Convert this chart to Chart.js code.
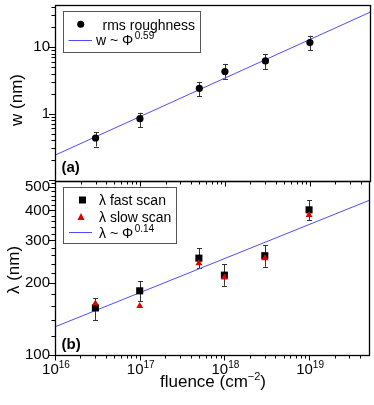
<!DOCTYPE html>
<html>
<head>
<meta charset="utf-8">
<script src="https://cdn.jsdelivr.net/npm/chart.js@4.4.1/dist/chart.umd.min.js"></script>
<style>
html, body { margin: 0; padding: 0; background: #fff; }
#wrap { position: relative; width: 374px; height: 405px; }
#wrap canvas { position: absolute; left: 0; top: 0; }
</style>
</head>
<body>
<div id="wrap">
  <canvas id="top-chart" width="374" height="405"></canvas>
  <canvas id="bottom-chart" width="374" height="405"></canvas>
</div>
<script>
// fluence values (cm^-2)
const fluence = [3e16, 1e17, 5e17, 1e18, 3e18, 1e19];

// panel (a): rms roughness w (nm) with error bar ends
const roughness = [0.43, 0.84, 2.4, 4.3, 6.2, 11.7];
const roughnessHi = [0.53, 1.03, 3.0, 5.6, 7.9, 14.8];
const roughnessLo = [0.32, 0.63, 1.84, 3.35, 4.7, 8.9];

// panel (b): wavelength lambda (nm)
const lambdaFast = [157, 185, 253, 215, 259, 402];
const lambdaFastHi = [172, 203, 278, 239, 287, 442];
const lambdaFastLo = [140, 168, 230, 194, 233, 363];
const lambdaSlow = [164, 160, 241, 210, 253, 383];

// power-law fit lines, read at the ends of the x axis
const fitFluence = [1e16, 5.1e19];
const fitRoughness = [0.237, 33.5];
const fitLambda = [131, 440];

// tick labels
const xTickExponents = [16, 17, 18, 19];
const wTicks = [1, 10];
const lambdaTicks = [100, 200, 300, 400, 500];

const FONT = "'Liberation Sans', Arial, sans-serif";
const fitColor = '#4d4dff';
Chart.defaults.font.family = FONT;
Chart.defaults.color = '#000';

function toPoints(xs, ys) {
    return xs.map((x, i) => ({x: x, y: ys[i]}));
}

function fixAxisWidth(scale) {
    scale.width = 55;
    scale.paddingTop = 0;
    scale.paddingBottom = 0;
    scale.paddingLeft = 0;
    scale.paddingRight = 0;
}

// draw text made of pieces, some of them raised (superscripts)
function drawParts(ctx, parts, x, y, align) {
    let total = 0;
    parts.forEach(p => {
        ctx.font = (p.bold ? 'bold ' : '') + p.size + 'px ' + FONT;
        p.w = ctx.measureText(p.t).width;
        total += p.w + (p.gap || 0);
    });
    let cx = x;
    if (align === 'center') cx = x - total / 2;
    ctx.textAlign = 'left';
    ctx.textBaseline = 'alphabetic';
    parts.forEach(p => {
        ctx.font = (p.bold ? 'bold ' : '') + p.size + 'px ' + FONT;
        cx += (p.gap || 0);
        ctx.fillText(p.t, cx, y - (p.rise || 0));
        cx += p.w;
    });
}

function drawErrorBars(chart, hi, lo) {
    const ctx = chart.ctx;
    const xs = chart.scales.x;
    const ys = chart.scales.y;
    ctx.save();
    ctx.strokeStyle = '#333';
    ctx.lineWidth = 1;
    for (let i = 0; i < fluence.length; i++) {
        const x = Math.round(xs.getPixelForValue(fluence[i])) + 0.5;
        const y1 = ys.getPixelForValue(hi[i]);
        const y2 = ys.getPixelForValue(lo[i]);
        ctx.beginPath();
        ctx.moveTo(x, y1);
        ctx.lineTo(x, y2);
        ctx.moveTo(x - 2.5, Math.round(y1) + 0.5);
        ctx.lineTo(x + 2.5, Math.round(y1) + 0.5);
        ctx.moveTo(x - 2.5, Math.round(y2) + 0.5);
        ctx.lineTo(x + 2.5, Math.round(y2) + 0.5);
        ctx.stroke();
    }
    ctx.restore();
}

function drawFrame(chart) {
    const ctx = chart.ctx;
    const a = chart.chartArea;
    ctx.save();
    ctx.strokeStyle = '#000';
    ctx.lineWidth = 1.3;
    ctx.strokeRect(Math.round(a.left) + 0.5, Math.round(a.top) + 0.5,
        Math.round(a.right - a.left), Math.round(a.bottom - a.top));
    ctx.restore();
}

// log minor/major ticks on the x axis, hanging down from yLine
function drawXTicks(chart, yLine) {
    const ctx = chart.ctx;
    const xs = chart.scales.x;
    ctx.save();
    ctx.strokeStyle = '#000';
    ctx.lineWidth = 1;
    ctx.beginPath();
    for (let e = 16; e <= 19; e++) {
        for (let m = 1; m <= 9; m++) {
            const v = m * Math.pow(10, e);
            if (v < xs.min || v > xs.max) continue;
            const px = Math.round(xs.getPixelForValue(v)) + 0.5;
            if (px > chart.chartArea.right - 2) continue;
            const len = m === 1 ? 5 : 3;
            ctx.moveTo(px, yLine);
            ctx.lineTo(px, yLine + len);
        }
    }
    ctx.stroke();
    ctx.restore();
}

function drawYTicks(chart, values, isMajor) {
    const ctx = chart.ctx;
    const ys = chart.scales.y;
    const left = Math.round(chart.chartArea.left);
    ctx.save();
    ctx.strokeStyle = '#000';
    ctx.lineWidth = 1;
    ctx.beginPath();
    values.forEach(v => {
        if (v < ys.min || v > ys.max) return;
        const py = Math.round(ys.getPixelForValue(v)) + 0.5;
        const len = isMajor(v) ? 6 : 3.5;
        ctx.moveTo(left - len, py);
        ctx.lineTo(left, py);
    });
    ctx.stroke();
    ctx.restore();
}

function drawRotated(ctx, text, x, y, size) {
    ctx.save();
    ctx.translate(x, y);
    ctx.rotate(-Math.PI / 2);
    ctx.font = size + 'px ' + FONT;
    ctx.fillStyle = '#000';
    ctx.textAlign = 'center';
    ctx.textBaseline = 'middle';
    ctx.fillText(text, 0, 0);
    ctx.restore();
}

function legendBox(ctx, x, y, w, h) {
    ctx.save();
    ctx.fillStyle = '#fff';
    ctx.fillRect(x, y, w, h);
    ctx.strokeStyle = '#555';
    ctx.lineWidth = 1;
    ctx.strokeRect(x + 0.5, y + 0.5, w, h);
    ctx.restore();
}

const topPanel = {
    id: 'topPanel',
    beforeDatasetsDraw(chart) {
        drawErrorBars(chart, roughnessHi, roughnessLo);
    },
    afterDraw(chart) {
        const ctx = chart.ctx;
        const minor = [];
        for (let e = -2; e <= 1; e++) {
            for (let m = 1; m <= 9; m++) minor.push(m * Math.pow(10, e));
        }
        drawYTicks(chart, minor, v => Math.abs(Math.log10(v) - Math.round(Math.log10(v))) < 1e-9);
        drawFrame(chart);
        drawXTicks(chart, Math.round(chart.chartArea.bottom) + 0.5);

        // legend
        legendBox(ctx, 63, 11, 137, 41);
        ctx.save();
        ctx.fillStyle = '#000';
        ctx.beginPath();
        ctx.arc(80.7, 24.3, 3.5, 0, Math.PI * 2);
        ctx.fill();
        drawParts(ctx, [{t: 'rms roughness', size: 14}], 102.5, 29.5, 'left');
        ctx.strokeStyle = fitColor;
        ctx.lineWidth = 1;
        ctx.beginPath();
        ctx.moveTo(68.5, 40.5);
        ctx.lineTo(92, 40.5);
        ctx.stroke();
        drawParts(ctx, [{t: 'w ~ Φ', size: 14}, {t: '0.59', size: 10, rise: 6, gap: 1.5}], 96, 44.5, 'left');

        ctx.fillStyle = '#000';
        drawParts(ctx, [{t: '(a)', size: 15, bold: true}], 61.5, 172, 'left');
        drawRotated(ctx, 'w (nm)', 17, 100, 17);
        ctx.restore();
    }
};

const bottomPanel = {
    id: 'bottomPanel',
    beforeDatasetsDraw(chart) {
        drawErrorBars(chart, lambdaFastHi, lambdaFastLo);
    },
    afterDraw(chart) {
        const ctx = chart.ctx;
        const ticks = [];
        for (let v = 100; v <= 520; v += 20) ticks.push(v);
        drawYTicks(chart, ticks, v => v % 100 === 0);
        drawFrame(chart);
        drawXTicks(chart, Math.round(chart.chartArea.bottom) + 0.5);

        // x tick labels with exponents
        const xs = chart.scales.x;
        ctx.save();
        ctx.fillStyle = '#000';
        xTickExponents.forEach(e => {
            const px = xs.getPixelForValue(Math.pow(10, e));
            drawParts(ctx, [{t: '10', size: 15}, {t: String(e), size: 10, rise: 6}], px + 1, 374, 'center');
        });
        drawParts(ctx, [{t: 'fluence (cm', size: 17}, {t: '−2', size: 11, rise: 7}, {t: ')', size: 17}], 213, 387, 'center');

        // legend
        legendBox(ctx, 63, 187, 113, 56);
        ctx.fillStyle = '#000';
        ctx.fillRect(79, 196.5, 7, 7);
        drawParts(ctx, [{t: 'λ fast scan', size: 14}], 99, 205, 'left');
        ctx.fillStyle = '#e00000';
        ctx.beginPath();
        ctx.moveTo(81, 213);
        ctx.lineTo(84.5, 220);
        ctx.lineTo(77.5, 220);
        ctx.closePath();
        ctx.fill();
        ctx.fillStyle = '#000';
        drawParts(ctx, [{t: 'λ slow scan', size: 14}], 99, 221.5, 'left');
        ctx.strokeStyle = fitColor;
        ctx.lineWidth = 1;
        ctx.beginPath();
        ctx.moveTo(69, 232.5);
        ctx.lineTo(92, 232.5);
        ctx.stroke();
        drawParts(ctx, [{t: 'λ ~ Φ', size: 14}, {t: '0.14', size: 10, rise: 6, gap: 1.5}], 99, 237.5, 'left');

        drawParts(ctx, [{t: '(b)', size: 15, bold: true}], 61.5, 349, 'left');
        drawRotated(ctx, 'λ (nm)', 14, 270, 17);
        ctx.restore();
    }
};

function yAxis(min, max, labels) {
    return {
        type: 'logarithmic',
        min: min,
        max: max,
        grid: {display: false, drawTicks: false},
        border: {display: false},
        afterBuildTicks: scale => { scale.ticks = labels.map(v => ({value: v})); },
        afterFit: fixAxisWidth,
        ticks: {
            padding: 5,
            color: '#000',
            autoSkip: false,
            font: {size: 15},
            callback: v => String(v)
        }
    };
}

const xAxis = {type: 'logarithmic', min: 1e16, max: 5.1e19, display: false};

const topChart = new Chart(document.getElementById('top-chart'), {
    type: 'scatter',
    data: {
        datasets: [{
            label: 'rms roughness',
            data: toPoints(fluence, roughness),
            pointStyle: 'circle',
            pointRadius: 3.6,
            backgroundColor: '#000',
            borderColor: '#000',
            borderWidth: 0
        }, {
            label: 'w ~ Φ^0.59',
            type: 'line',
            data: toPoints(fitFluence, fitRoughness),
            borderColor: fitColor,
            borderWidth: 1,
            pointRadius: 0,
            fill: false
        }]
    },
    options: {
        responsive: false,
        animation: false,
        layout: {padding: {left: 0, top: 5, right: 3, bottom: 224}},
        plugins: {legend: {display: false}, tooltip: {enabled: false}},
        scales: {x: xAxis, y: yAxis(0.097, 43, wTicks)}
    },
    plugins: [topPanel]
});

const bottomChart = new Chart(document.getElementById('bottom-chart'), {
    type: 'scatter',
    data: {
        datasets: [{
            label: 'λ slow scan',
            data: toPoints(fluence, lambdaSlow),
            pointStyle: 'triangle',
            pointRadius: 4,
            backgroundColor: '#e00000',
            borderColor: '#e00000',
            borderWidth: 0
        }, {
            label: 'λ fast scan',
            data: toPoints(fluence, lambdaFast),
            pointStyle: 'rect',
            pointRadius: 5,
            backgroundColor: '#000',
            borderColor: '#000',
            borderWidth: 0
        }, {
            label: 'λ ~ Φ^0.14',
            type: 'line',
            data: toPoints(fitFluence, fitLambda),
            borderColor: fitColor,
            borderWidth: 1,
            pointRadius: 0,
            fill: false
        }]
    },
    options: {
        responsive: false,
        animation: false,
        layout: {padding: {left: 0, top: 181, right: 3, bottom: 50}},
        plugins: {legend: {display: false}, tooltip: {enabled: false}},
        scales: {x: xAxis, y: yAxis(100, 530, lambdaTicks)}
    },
    plugins: [bottomPanel]
});
</script>
</body>
</html>
